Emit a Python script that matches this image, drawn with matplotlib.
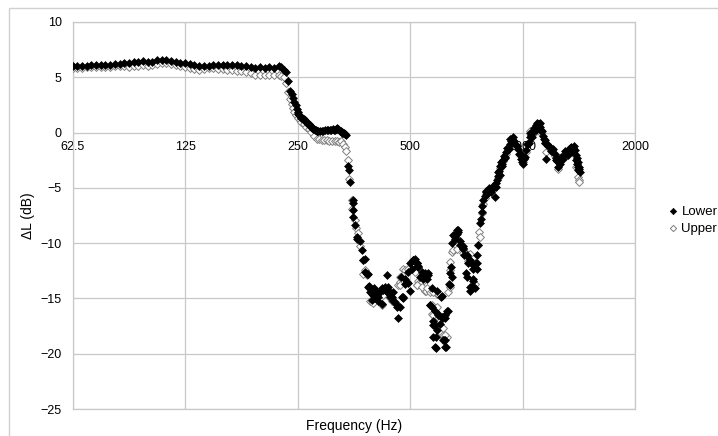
import matplotlib
matplotlib.use("Agg")
import matplotlib.pyplot as plt
import matplotlib.transforms as mtransforms
from matplotlib.patches import Rectangle

plt.rcParams['font.family'] = ['Liberation Sans', 'DejaVu Sans']

# ---------------- data ----------------
x_ticks = [62.5, 125, 250, 500, 1000, 2000]
x_tick_labels = ["62.5", "125", "250", "500", "1000", "2000"]
y_ticks = [10, 5, 0, -5, -10, -15, -20, -25]

flat_freq = [62.5, 64.3, 66.2, 68.1, 70.1, 72.2, 74.3, 76.5, 78.7, 81.0, 83.4, 85.8,
             88.4, 91.0, 93.6, 96.4, 99.2, 102.1, 105.1, 108.1, 111.3, 114.6, 117.9,
             121.4, 125.0, 128.6, 132.4, 136.3, 140.3, 144.4, 148.6, 153.0, 157.5,
             162.1, 166.8, 171.7, 176.8, 182.0, 187.3, 192.8, 198.4, 204.3, 210.2,
             216.4, 222.7, 226.0, 229.3, 232.5]
lower_flat = [6.0, 6.0, 6.05, 6.05, 6.1, 6.1, 6.1, 6.15, 6.15, 6.2, 6.2, 6.25, 6.3,
              6.35, 6.4, 6.45, 6.4, 6.35, 6.55, 6.6, 6.55, 6.5, 6.4, 6.3, 6.25, 6.2,
              6.1, 6.05, 6.0, 6.05, 6.1, 6.1, 6.15, 6.1, 6.1, 6.15, 6.05, 6.0, 5.95,
              5.85, 5.9, 5.85, 5.9, 5.85, 6.0, 5.9, 5.65, 5.5]
upper_flat = [5.85, 5.85, 5.85, 5.9, 5.9, 5.9, 5.95, 5.95, 5.95, 6.0, 6.0, 6.0, 5.95,
              6.0, 6.05, 6.1, 6.05, 6.1, 6.2, 6.25, 6.25, 6.2, 6.1, 6.0, 5.9, 5.8,
              5.75, 5.7, 5.75, 5.8, 5.8, 5.75, 5.75, 5.7, 5.65, 5.6, 5.55, 5.45, 5.35,
              5.25, 5.2, 5.25, 5.2, 5.2, 5.2, 5.15, 5.0, 4.5]

lower_drop_freq = [236, 239, 241, 243, 245, 247, 249, 250, 251, 252, 253, 254.5, 256,
                   257, 258, 259.5, 261, 262.5, 264, 265, 266, 267.5, 269, 270.5, 272,
                   273.5, 275, 276.5, 278, 279.5, 281, 282.5, 284, 287, 290, 293, 296,
                   299, 302, 305, 308, 310, 312, 314, 316, 318, 319, 321, 324, 326,
                   328, 329.5, 331, 332.5, 334, 335.5, 337, 341.5, 343, 345, 350.8,
                   352.1, 352.1]
lower_drop = [4.7, 3.8, 3.5, 3.1, 2.8, 2.5, 2.1, 1.9, 1.7, 1.6, 1.5, 1.4, 1.3, 1.35,
              1.2, 1.2, 1.1, 1.0, 1.0, 0.9, 0.8, 0.75, 0.7, 0.6, 0.5, 0.45, 0.35, 0.3,
              0.2, 0.2, 0.15, 0.1, 0.1, 0.1, 0.1, 0.15, 0.2, 0.2, 0.2, 0.2, 0.2, 0.3,
              0.25, 0.25, 0.3, 0.3, 0.4, 0.3, 0.15, 0.1, 0.05, 0.0, 0.0, -0.05, -0.1,
              -0.15, -0.25, -3.0, -3.4, -4.5, -6.1, -6.4, -7.0]

lower_trough_freq = [352.1, 355.9, 359.6, 359.6, 367.0, 370.9, 374.5, 378.5, 383.9,
                     386.2, 388.6, 390.3, 394.4, 394.4, 398.3, 402.5, 406.8, 410.8,
                     415.1, 419.5, 423.6, 432.6, 434.2, 436.9, 441.5, 446.1, 450.5,
                     460.1, 464.6, 469.5, 472.4, 474.5, 479.2, 484.2, 489.3, 494.2,
                     499.4, 499.4, 509.6, 515.0, 520.4, 522.4, 525.6, 531.1, 536.7,
                     540.0, 547.7, 551.1, 556.9, 559.0, 564.9, 570.8, 576.5, 582.5,
                     586.2, 586.2, 594.5, 600.8, 603.3, 607.1, 613.1, 616.9, 619.5,
                     619.5, 623.4, 626.1, 630.0, 636.2, 638.9, 641.7]
lower_trough = [-7.6, -8.4, -9.4, -9.6, -9.8, -10.6, -11.5, -12.6, -12.8, -14.0,
                -13.9, -14.4, -14.6, -15.1, -14.6, -15.0, -14.9, -15.2, -14.4, -15.5,
                -14.2, -14.3, -12.9, -14.0, -14.4, -14.9, -15.2, -15.6, -16.8, -15.8,
                -13.1, -14.9, -15.0, -13.7, -13.5, -13.6, -14.3, -11.8, -11.5, -11.4,
                -12.1, -11.8, -12.2, -13.1, -12.6, -13.2, -12.7, -12.9, -12.7, -12.9,
                -15.6, -15.8, -17.0, -17.4, -18.5, -19.5, -16.4, -17.3, -14.9, -16.8,
                -16.7, -18.8, -16.5, -18.8, -19.4, -16.1, -16.1, -13.7, -12.7, -12.2]

lower_trough2_freq = [378.5, 384.8, 387.9, 394.4, 398.3, 400.8, 406.8, 410.8, 419.5,
                      428.1, 432.6, 441.5, 450.5, 455.3, 460.1, 479.2, 484.2, 494.2,
                      504.7, 509.6, 520.4, 525.6, 536.7, 547.7, 553.5, 570.8, 588.7,
                      609.3, 564.9, 582.5, 594.5, 607.1, 619.5, 576.5, 588.7, 576.5,
                      582.5, 613.1, 619.5, 658.9, 672.5, 679.5, 693.5, 708.2, 722.7,
                      737.6, 753.2, 708.2, 737.6, 722.7, 737.6, 645.7, 638.9]
lower_trough2 = [-11.4, -12.75, -13.96, -14.35, -14.7, -14.1, -14.4, -14.9, -14.1,
                 -14.0, -14.4, -14.9, -14.4, -15.3, -15.8, -14.9, -13.2, -12.6, -12.3,
                 -11.5, -11.8, -12.1, -12.9, -12.75, -13.2, -14.1, -14.3, -14.8, -15.6,
                 -16.1, -16.5, -16.7, -16.8, -17.4, -17.9, -18.5, -19.4, -18.8, -19.4,
                 -9.6, -8.8, -10.2, -10.5, -11.1, -11.5, -12.0, -12.3, -13.1, -13.4,
                 -14.0, -14.0, -13.1, -13.8]

lower_rise_freq = [645.7, 652.1, 658.9, 665.8, 668.3, 672.5, 679.5, 691.0, 693.5,
                   696.5, 705.1, 708.2, 715.2, 722.7, 730.3, 737.6, 737.6, 745.3,
                   749.9, 753.2, 756.0, 760.7, 768.6, 772.0, 776.7, 780.5, 784.5]
lower_rise = [-10.0, -9.3, -9.4, -8.8, -9.2, -9.0, -9.8, -10.3, -10.4, -11.1, -12.7,
              -11.2, -11.8, -14.3, -14.0, -13.2, -12.3, -14.1, -11.8, -11.8, -11.1,
              -10.2, -8.2, -7.8, -7.2, -6.6, -6.1]

lower_high_freq = [792, 800.6, 808, 817, 826, 837.4, 842.6, 845, 851.5, 855, 859.9,
                   866, 872.7, 880, 886.8, 895, 905.6, 915, 924.2, 932, 939.7, 950,
                   963.1, 972, 982.9, 992, 1003, 1012, 1024.3, 1035, 1045.4, 1056,
                   1066.8, 1078, 1089.4, 1098, 1107, 1115, 1123.5, 1135, 1146.6,
                   1158.6, 1165, 1182.5, 1200, 1219.4, 1232, 1244.5, 1257, 1270.8,
                   1290, 1310.6, 1330, 1351.6, 1365, 1379.3, 1393.9, 1400, 1407.7,
                   1415, 1422.5]
lower_high = [-5.7, -5.4, -5.3, -5.2, -5.1, -4.9, -5.8, -4.8, -4.6, -4.3, -3.9, -3.5,
              -3.0, -2.8, -2.5, -2.2, -1.8, -1.4, -1.0, -0.8, -0.6, -0.8, -1.1, -1.5,
              -1.9, -2.4, -2.8, -2.3, -1.6, -1.0, -0.4, -0.2, 0.05, 0.3, 0.66, 0.75,
              0.8, 0.5, 0.2, -0.3, -0.7, -2.4, -1.0, -1.3, -1.6, -1.9, -2.5, -3.1,
              -2.8, -2.2, -2.0, -1.8, -1.5, -1.3, -1.4, -1.6, -2.5, -2.8, -3.1, -3.3,
              -3.6]

lower_high2_freq = [796, 804, 812, 821, 831, 848, 862, 869, 876, 883, 891, 900, 910,
                    920, 928, 936, 944, 956, 968, 978, 988, 997, 1007, 1018, 1030,
                    1040, 1050, 1061, 1072, 1084, 1094, 1103, 1111, 1119, 1129, 1141,
                    1152, 1172, 1190, 1210, 1226, 1238, 1250, 1263, 1280, 1300, 1320,
                    1340, 1358, 1372, 1386, 1397, 1404, 1411, 1419]
lower_high2 = [-5.3, -5.6, -5.0, -5.4, -4.8, -4.9, -3.6, -3.8, -2.7, -3.0, -2.1, -2.3,
               -1.4, -1.5, -0.6, -0.9, -0.4, -1.0, -1.2, -1.9, -1.9, -2.7, -2.4, -2.2,
               -1.0, -0.9, 0.0, -0.4, 0.4, 0.2, 0.9, 0.5, 0.9, 0.1, 0.1, -0.6, -0.9,
               -1.2, -1.7, -1.5, -2.3, -2.6, -2.7, -2.5, -2.4, -1.7, -2.0, -1.4, -1.7,
               -1.2, -2.0, -2.3, -2.7, -3.4, -3.1]

upper_drop_freq = [236, 239, 241, 243, 245, 247, 250, 253, 256, 260, 264, 268, 272,
                   276, 281, 285, 290, 295, 299, 304, 309, 314, 318, 322, 326, 330,
                   334, 336.6, 341, 343.5, 349, 350.5, 355.5, 358, 363.2, 367.0]
upper_drop = [3.7, 3.0, 2.6, 2.2, 1.9, 1.6, 1.3, 1.1, 1.0, 0.8, 0.5, 0.3, 0.05, -0.3,
              -0.55, -0.6, -0.7, -0.7, -0.7, -0.75, -0.75, -0.8, -0.8, -0.85, -0.8,
              -1.0, -1.3, -1.65, -2.5, -4.2, -6.1, -6.9, -7.9, -8.6, -9.1, -10.3]

upper_trough_freq = [374.5, 378.5, 383.9, 390.3, 394.4, 398.3, 402.5, 410.8, 419.5,
                     423.6, 441.5, 446.1, 464.6, 469.5, 479.2, 484.2, 489.3, 499.4,
                     509.6, 515.0, 522.4, 525.6, 531.1, 536.7, 547.7, 553.0, 564.9,
                     570.8, 576.5, 582.5, 588.7, 588.7, 594.5, 600.8, 613.1, 616.9,
                     626.1, 632.2, 638.9]
upper_trough = [-11.5, -12.4, -12.9, -15.2, -15.2, -15.4, -14.7, -14.6, -15.5, -14.7,
                -15.0, -15.2, -13.8, -13.5, -12.3, -12.7, -12.5, -12.2, -12.0, -12.6,
                -13.8, -13.4, -13.5, -13.5, -14.3, -14.3, -14.4, -16.4, -16.5, -17.1,
                -17.7, -14.6, -14.6, -18.0, -18.3, -18.6, -18.5, -14.4, -11.7]

upper_trough2_freq = [484.2, 469.5, 469.5, 520.4, 536.7, 553.5, 576.5, 570.8, 588.7,
                      600.8, 613.1, 619.5, 638.9, 638.9, 374.5, 402.5, 419.5, 446.1,
                      494.2]
upper_trough2 = [-12.45, -13.1, -13.8, -13.8, -13.96, -14.1, -14.4, -15.6, -15.8,
                 -17.0, -17.7, -18.3, -14.0, -12.45, -12.75, -14.9, -15.6, -15.0,
                 -12.3]

upper_rise_freq = [645.7, 652.1, 665.8, 693.5, 708.2, 715.2, 722.7, 745.3, 745.3,
                   760.7, 765.3, 768.6, 776.7, 784.5]
upper_rise = [-10.8, -10.6, -10.5, -10.9, -11.0, -11.6, -11.0, -13.7, -11.8, -10.2,
              -9.0, -9.4, -7.3, -6.5]

upper_high_freq = [792, 800.6, 817, 837.4, 859.9, 872.7, 886.8, 905.6, 924.2, 939.7,
                   963.1, 982.9, 1003, 1024.3, 1045.4, 1066.8, 1089.4, 1107, 1123.5,
                   1146.6, 1158.6, 1182.5, 1219.4, 1244.5, 1270.8, 1310.6, 1351.6,
                   1379.3, 1393.9, 1407.7, 1415, 1420]
upper_high = [-5.9, -5.6, -5.3, -5.0, -4.1, -3.2, -2.6, -1.9, -1.2, -0.8, -1.3, -2.0,
              -2.7, -1.8, 0.15, -0.1, 0.5, 0.6, 0.0, -0.9, -1.75, -1.5, -2.1, -3.3,
              -2.4, -2.0, -1.5, -2.0, -3.1, -4.0, -4.3, -4.5]

lower_freq = (flat_freq + lower_drop_freq + lower_trough_freq + lower_trough2_freq
              + lower_rise_freq + lower_high_freq + lower_high2_freq)
lower_db = (lower_flat + lower_drop + lower_trough + lower_trough2
            + lower_rise + lower_high + lower_high2)
upper_freq = (flat_freq + upper_drop_freq + upper_trough_freq + upper_trough2_freq
              + upper_rise_freq + upper_high_freq)
upper_db = upper_flat + upper_drop + upper_trough + upper_trough2 + upper_rise + upper_high

# ---------------- figure ----------------
fig = plt.figure(figsize=(7.18, 4.36), dpi=100)
ax = fig.add_axes([72.7 / 718, 1 - 409 / 436, (635 - 72.7) / 718, (409 - 22) / 436])

# outer chart border
fig.patches.append(Rectangle((9 / 718, -0.05), 1.0, 1 - 8 / 436 + 0.05,
                             transform=fig.transFigure, fill=False,
                             edgecolor='#d0d0d0', linewidth=1.0))

ax.set_xscale('log')
ax.set_xlim(62.5, 2000)
ax.set_ylim(-25, 10)
ax.set_xticks(x_ticks)
ax.set_xticklabels([])
ax.minorticks_off()
ax.set_yticks(y_ticks)
ax.tick_params(axis='both', length=0, labelsize=9, colors='black')
ax.tick_params(axis='y', pad=8)
for sp in ax.spines.values():
    sp.set_color('#c8c8c8')
    sp.set_linewidth(0.9)
ax.grid(True, color='#c8c8c8', linewidth=0.9)
ax.set_axisbelow(True)

# x tick labels drawn at y = 0 (axis crosses at zero), beneath the markers
offset = mtransforms.offset_copy(ax.transData, fig=fig, x=0, y=-6, units='points')
for xv, lab in zip(x_ticks, x_tick_labels):
    ax.text(xv, 0, lab, transform=offset, ha='center', va='top', fontsize=9,
            zorder=1)

ax.scatter(upper_freq, upper_db, marker='D', s=16, facecolors='white',
           edgecolors='#808080', linewidths=0.7, zorder=3, label='Upper')
ax.scatter(lower_freq, lower_db, marker='D', s=16, facecolors='black',
           edgecolors='black', linewidths=0.5, zorder=4, label='Lower')

ax.set_xlabel('Frequency (Hz)', fontsize=10, labelpad=4)
ax.set_ylabel('ΔL (dB)', fontsize=10, labelpad=4)

handles, labels = ax.get_legend_handles_labels()
leg = fig.legend(handles[::-1], labels[::-1], loc='center left',
                 bbox_to_anchor=(655 / 718, 1 - 220 / 436), frameon=False,
                 fontsize=9.5, handletextpad=0.1, handlelength=1.0,
                 labelspacing=0.35, scatterpoints=1, markerscale=0.8)

fig.savefig('out.png', dpi=100)
